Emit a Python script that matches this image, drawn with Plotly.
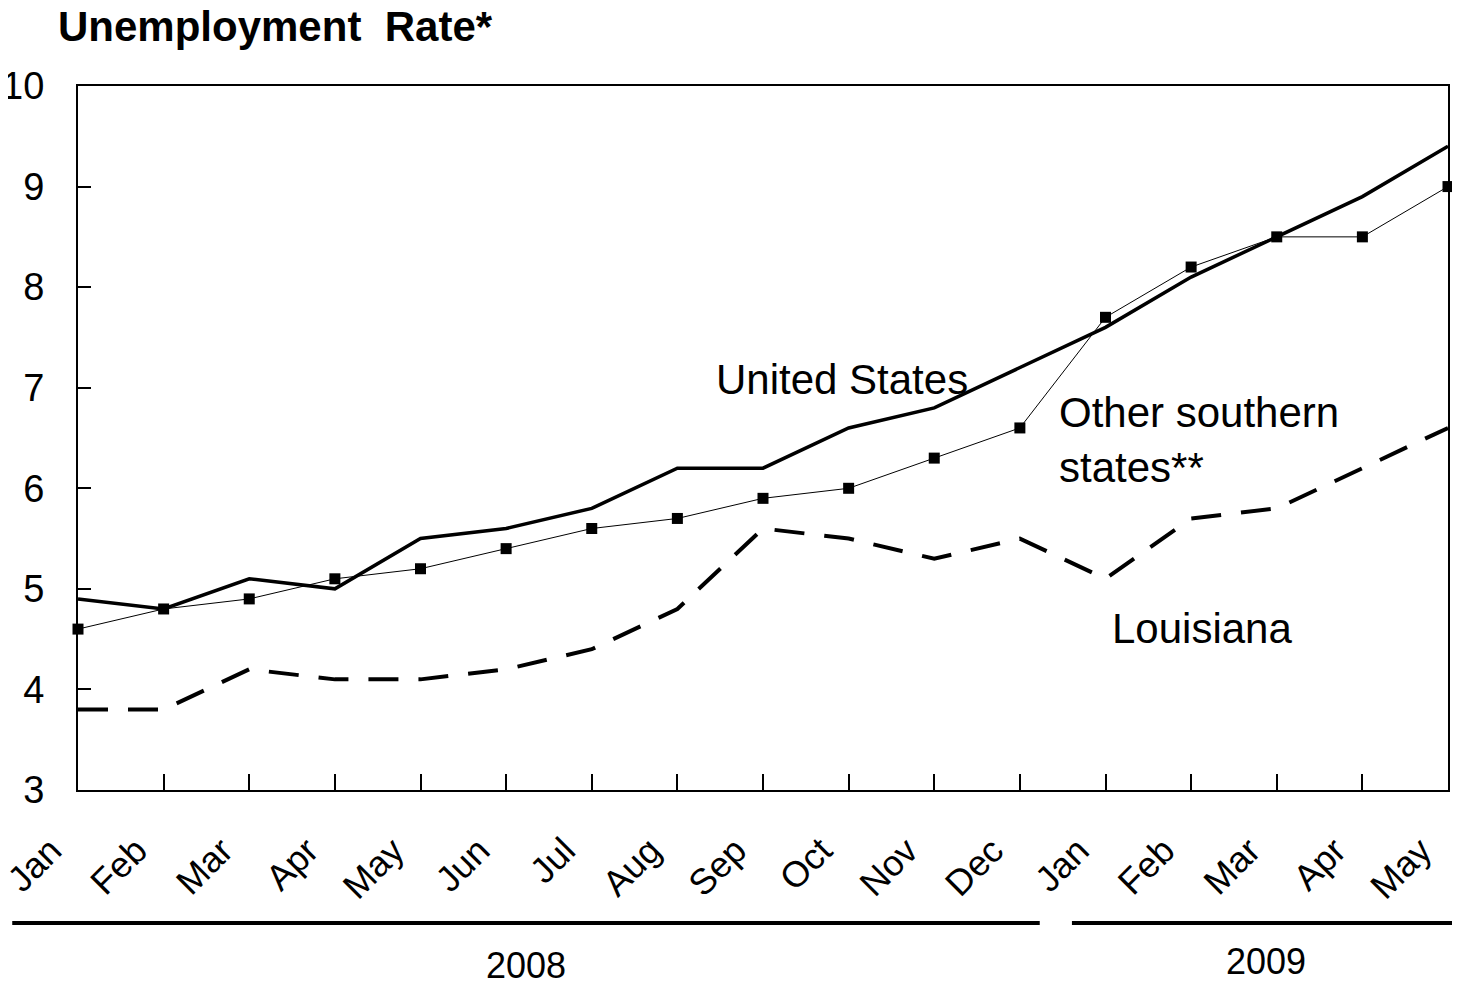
import plotly.graph_objects as go

months = ["Jan", "Feb", "Mar", "Apr", "May", "Jun", "Jul", "Aug", "Sep",
          "Oct", "Nov", "Dec", "Jan", "Feb", "Mar", "Apr", "May"]
united_states = [4.9, 4.8, 5.1, 5.0, 5.5, 5.6, 5.8, 6.2, 6.2, 6.6, 6.8, 7.2,
                 7.6, 8.1, 8.5, 8.9, 9.4]
other_southern = [4.6, 4.8, 4.9, 5.1, 5.2, 5.4, 5.6, 5.7, 5.9, 6.0, 6.3, 6.6,
                  7.7, 8.2, 8.5, 8.5, 9.0]
louisiana = [3.8, 3.8, 4.2, 4.1, 4.1, 4.2, 4.4, 4.8, 5.6, 5.5, 5.3, 5.5,
             5.1, 5.7, 5.8, 6.2, 6.6]
y_ticks = [3, 4, 5, 6, 7, 8, 9, 10]

FONT = "Liberation Sans, Arial, sans-serif"
x = list(range(len(months)))

# the page body adds ~8px margin, so the figure is 8px smaller than the window
W, H = 1452, 977

fig = go.Figure()
fig.add_trace(go.Scatter(x=x, y=louisiana, mode="lines",
                         line=dict(color="black", width=4, dash="30px,20px"),
                         cliponaxis=False))
fig.add_trace(go.Scatter(x=x, y=united_states, mode="lines",
                         line=dict(color="black", width=3.5),
                         cliponaxis=False))
fig.add_trace(go.Scatter(x=x, y=other_southern, mode="lines+markers",
                         line=dict(color="black", width=1),
                         marker=dict(symbol="square", size=11, color="black"),
                         cliponaxis=False))

# labels next to lines
fig.add_annotation(x=7.43, y=7.08, text="United States", showarrow=False,
                   xanchor="left", yanchor="middle", font=dict(size=42))
fig.add_annotation(x=11.43, y=6.48, text="Other southern<br>states**",
                   showarrow=False, xanchor="left", yanchor="middle",
                   align="left", font=dict(size=42))
fig.add_annotation(x=12.05, y=4.61, text="Louisiana", showarrow=False,
                   xanchor="left", yanchor="middle", font=dict(size=42))

# year brackets under the month labels
fig.add_shape(type="line", xref="paper", yref="paper", x0=-0.048, x1=0.702,
              y0=-0.189, y1=-0.189, line=dict(color="black", width=4))
fig.add_shape(type="line", xref="paper", yref="paper", x0=0.7255, x1=1.0088,
              y0=-0.189, y1=-0.189, line=dict(color="black", width=4))
fig.add_annotation(xref="paper", yref="paper", x=0.327, y=-0.249, text="2008",
                   showarrow=False, xanchor="center", yanchor="middle",
                   font=dict(size=36))
fig.add_annotation(xref="paper", yref="paper", x=0.867, y=-0.243, text="2009",
                   showarrow=False, xanchor="center", yanchor="middle",
                   font=dict(size=36))

fig.update_layout(
    width=W, height=H,
    margin=dict(l=70, r=12, t=78, b=195),
    paper_bgcolor="white", plot_bgcolor="white",
    showlegend=False,
    font=dict(family=FONT, color="black"),
    title=dict(text="<b>Unemployment  Rate*</b>", x=50 / W, xanchor="left",
               y=1 - 18 / H, yanchor="middle", font=dict(size=42)),
)
fig.update_xaxes(range=[0, 16], tickvals=x, ticktext=months,
                 tickangle=-45, ticks="inside", ticklen=16, tickcolor="black",
                 tickwidth=1.5, showline=True, linecolor="black", linewidth=2,
                 mirror=True, showgrid=False, zeroline=False,
                 ticklabelstandoff=23, ticklabelshift=-27,
                 ticklabeloverflow="allow", automargin=False,
                 tickfont=dict(size=36))
fig.update_yaxes(range=[3, 10], tickvals=y_ticks, ticks="inside", ticklen=13,
                 tickcolor="black", tickwidth=1.5, showline=True,
                 linecolor="black", linewidth=2, mirror=True, showgrid=False,
                 zeroline=False, ticklabelstandoff=24, automargin=False,
                 tickfont=dict(size=38))

fig.write_html("out.html")
